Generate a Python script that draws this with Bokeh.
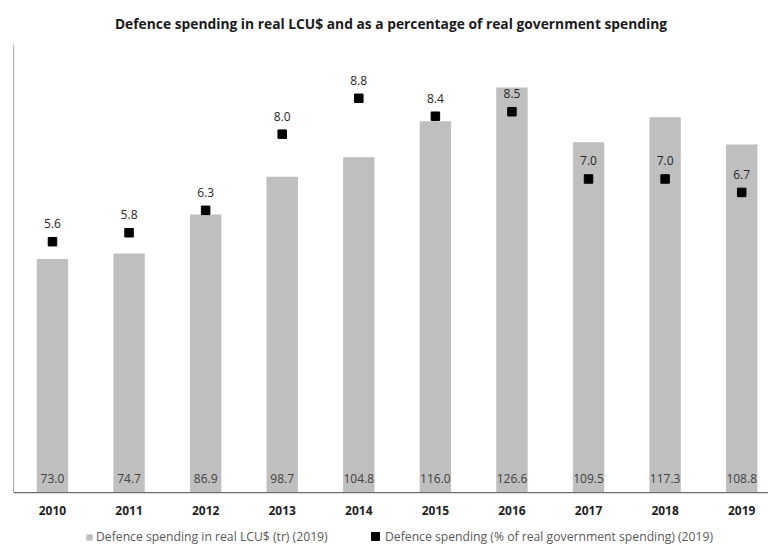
from bokeh.plotting import figure
from bokeh.models import Range1d, Span, Legend, LegendItem, ColumnDataSource
from bokeh.core.properties import value
from bokeh.embed import file_html
from bokeh.resources import INLINE

years = ["2010", "2011", "2012", "2013", "2014", "2015", "2016", "2017", "2018", "2019"]
spending_tr = [73.0, 74.7, 86.9, 98.7, 104.8, 116.0, 126.6, 109.5, 117.3, 108.8]
pct_gov = [5.6, 5.8, 6.3, 8.0, 8.8, 8.4, 8.5, 7.0, 7.0, 6.7]

xs = list(range(len(years)))
src = ColumnDataSource(dict(
    x=xs, year=years, zero=[0] * len(years), bar=spending_tr, pct=pct_gov,
    bar_lbl=[f"{v:.1f}" for v in spending_tr],
    pct_lbl=[f"{v:.1f}" for v in pct_gov],
))

FONT = "Open Sans"
X0, X1 = -0.509, 9.35
YMAX = 140.0
YMIN = -16.8
PMAX = 10.0
PMIN = YMIN * PMAX / YMAX

p = figure(width=768, height=546, output_backend="svg", toolbar_location=None,
           x_range=Range1d(X0, X1), y_range=Range1d(YMIN, YMAX),
           min_border_left=13, min_border_right=0, min_border_top=43, min_border_bottom=0,
           title="Defence spending in real LCU$ and as a percentage of real government spending")
p.extra_y_ranges = {"pct": Range1d(PMIN, PMAX)}

p.title.align = "center"
p.title.text_font = FONT
p.title.text_font_size = "13.8px"
p.title.text_font_style = "bold"
p.title.text_color = "#1a1a1a"
p.title.standoff = 23

p.outline_line_color = None
p.xgrid.visible = False
p.ygrid.visible = False
p.xaxis.visible = False
p.yaxis.visible = False

# axis lines
p.add_layout(Span(location=0, dimension="width", line_color="#6e6e6e", line_width=1.2))
p.segment(x0=[X0], y0=[0], x1=[X0], y1=[YMAX], line_color="#6e6e6e", line_width=1.2)

bars = p.vbar(x="x", top="bar", width=0.41, bottom=0, source=src,
              fill_color="#bfbfbf", line_color=None)
p.text(x="x", y="zero", text="bar_lbl", source=src, y_offset=-14,
       text_align="center", text_baseline="middle",
       text_font=value(FONT), text_font_size="12px", text_color="#404040")

# category labels
p.text(x="x", y="zero", text="year", source=src, y_offset=18,
       text_align="center", text_baseline="middle",
       text_font=value(FONT), text_font_size="12px", text_font_style="bold",
       text_color="#1e1e1e")

sq = p.scatter(x="x", y="pct", marker="square", size=8.5, source=src,
               fill_color="black", line_color="black", y_range_name="pct")
p.text(x="x", y="pct", text="pct_lbl", source=src, y_offset=-18, y_range_name="pct",
       text_align="center", text_baseline="middle",
       text_font=value(FONT), text_font_size="12px", text_color="#262626")


def style_legend(lg):
    lg.padding = 0
    lg.margin = 0
    lg.label_text_font = FONT
    lg.label_text_font_size = "12.2px"
    lg.label_text_color = "#595959"
    lg.border_line_color = None
    lg.background_fill_alpha = 0


leg_bar = Legend(items=[LegendItem(label="Defence spending in real LCU$ (tr) (2019)", renderers=[bars])],
                 orientation="horizontal", location=(72, 1))
style_legend(leg_bar)
leg_bar.label_standoff = 3
leg_bar.glyph_width = 8
leg_bar.glyph_height = 8
leg_bar.label_height = 12
p.add_layout(leg_bar)

leg_sq = Legend(items=[LegendItem(label="Defence spending (% of real government spending) (2019)", renderers=[sq])],
                orientation="horizontal", location=(352, 0))
style_legend(leg_sq)
leg_sq.label_standoff = 0
leg_sq.glyph_width = 20
leg_sq.glyph_height = 20
leg_sq.label_height = 12
p.add_layout(leg_sq)

open("out.html", "w").write(file_html(p, INLINE))
